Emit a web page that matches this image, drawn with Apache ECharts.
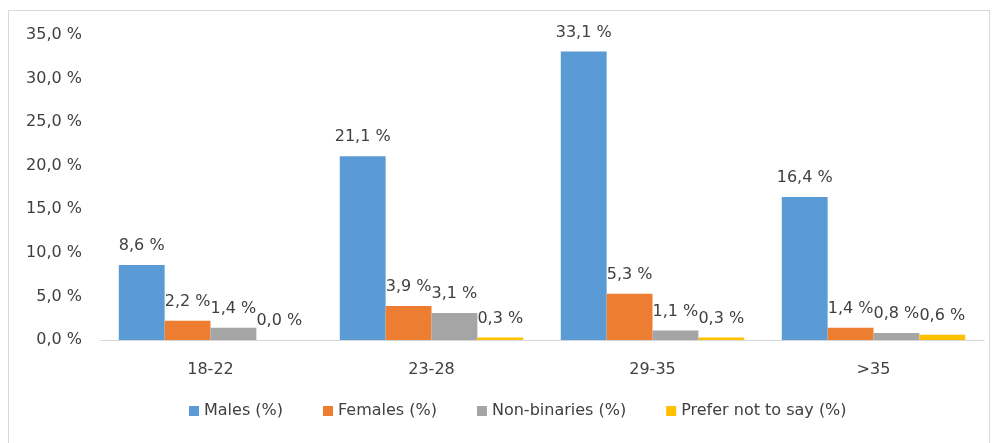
<!DOCTYPE html>
<html>
<head>
<meta charset="utf-8">
<script src="https://cdn.jsdelivr.net/npm/echarts@6/dist/echarts.min.js"></script>
<style>
  html, body { margin: 0; padding: 0; background: #fff; }
  #chart { width: 995px; height: 443px; }
</style>
</head>
<body>
<div id="chart"></div>
<script>
// age groups
var categories = ['18-22', '23-28', '29-35', '>35'];
// share of respondents (%)
var males = [8.6, 21.1, 33.1, 16.4];
var females = [2.2, 3.9, 5.3, 1.4];
var nonBinaries = [1.4, 3.1, 1.1, 0.8];
var preferNot = [0.0, 0.3, 0.3, 0.6];
var seriesNames = ['Males (%)', 'Females (%)', 'Non-binaries (%)', 'Prefer not to say (%)'];
var colors = ['#5B9BD5', '#ED7D31', '#A5A5A5', '#FFC000'];

function pct(v) {
  return v.toFixed(1).replace('.', ',') + ' %';
}

var font = 'DejaVu Sans, sans-serif';

function makeSeries(name, data, color) {
  return {
    name: name,
    type: 'bar',
    data: data,
    barGap: '0%',
    barCategoryGap: '17%',
    itemStyle: { color: color },
    label: {
      show: true,
      position: 'top',
      distance: 11,
      color: '#404040',
      fontSize: 16,
      fontFamily: font,
      formatter: function (p) { return pct(p.value); }
    }
  };
}

var chart = echarts.init(document.getElementById('chart'));
var option = {
  animation: false,
  color: colors,
  graphic: [{
    type: 'rect',
    shape: { x: 8.5, y: 10.5, width: 981, height: 440 },
    style: { fill: 'none', stroke: '#d9d9d9', lineWidth: 1 },
    silent: true
  }],
  grid: { left: 100, right: 11, top: 35, bottom: 103 },
  legend: {
    bottom: 19,
    left: 184,
    itemWidth: 10,
    itemHeight: 10,
    itemGap: 40,
    icon: 'rect',
    textStyle: { color: '#404040', fontSize: 16, fontFamily: font },
    data: seriesNames
  },
  xAxis: {
    type: 'category',
    data: categories,
    axisLine: { lineStyle: { color: '#d9d9d9' } },
    axisTick: { show: false },
    axisLabel: { color: '#404040', fontSize: 16, fontFamily: font, margin: 22 }
  },
  yAxis: {
    type: 'value',
    min: 0,
    max: 35,
    interval: 5,
    splitLine: { show: false },
    axisLine: { show: false },
    axisTick: { show: false },
    axisLabel: {
      color: '#404040',
      fontSize: 16,
      fontFamily: font,
      margin: 18,
      formatter: function (v) { return pct(v); }
    }
  },
  series: [
    makeSeries(seriesNames[0], males, colors[0]),
    makeSeries(seriesNames[1], females, colors[1]),
    makeSeries(seriesNames[2], nonBinaries, colors[2]),
    makeSeries(seriesNames[3], preferNot, colors[3])
  ]
};
chart.setOption(option);
</script>
</body>
</html>
